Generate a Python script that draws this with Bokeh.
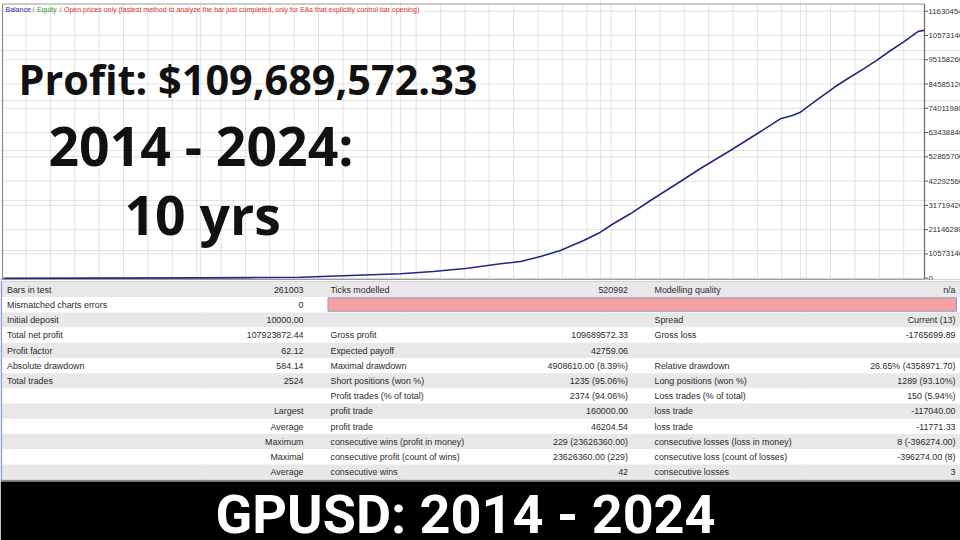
from bokeh.plotting import figure
from bokeh.models import Range1d
from bokeh.layouts import column
from bokeh.embed import file_html
from bokeh.resources import INLINE
from bokeh.core.properties import value

# ---------------- data ----------------
trade_no = [0, 266, 540, 677, 814, 951, 1088, 1178, 1272, 1362, 1417, 1472, 1526, 1590,
            1636, 1672, 1718, 1773, 1855, 1910, 1992, 2075, 2129, 2162, 2184, 2233, 2275,
            2313, 2357, 2395, 2431, 2466, 2508, 2524]
balance = [10000, 45000, 130000, 260000, 440000, 1180000, 1920000, 2920000, 4360000,
           6270000, 7270000, 9450000, 12070000, 16420000, 20040000, 23830000, 28050000,
           33850000, 42120000, 47780000, 55630000, 63900000, 69430000, 70870000, 72310000,
           78150000, 82940000, 86860000, 91210000, 95130000, 99190000, 102800000,
           107590000, 107933872.44]

tick_values = [0, 10573140, 21146280, 31719420, 42292560, 52865700, 63438840,
               74011980, 84585120, 95158260, 105731400, 116304540]
tick_labels = ["0", "10573140", "21146280", "31719420", "42292560", "52865700",
               "63438840", "74011980", "84585120", "95158260", "105731400", "116304540"]

col1_labels = ["Bars in test", "Mismatched charts errors", "Initial deposit", "Total net profit",
               "Profit factor", "Absolute drawdown", "Total trades", "", "", "", "", "", ""]
col1_values = ["261003", "0", "10000.00", "107923872.44", "62.12", "584.14", "2524", "",
               "Largest", "Average", "Maximum", "Maximal", "Average"]
col2_labels = ["Ticks modelled", "", "", "Gross profit", "Expected payoff", "Maximal drawdown",
               "Short positions (won %)", "Profit trades (% of total)", "profit trade",
               "profit trade", "consecutive wins (profit in money)",
               "consecutive profit (count of wins)", "consecutive wins"]
col2_values = ["520992", "", "", "109689572.33", "42759.06", "4908610.00 (8.39%)",
               "1235 (95.06%)", "2374 (94.06%)", "160000.00", "46204.54",
               "229 (23626360.00)", "23626360.00 (229)", "42"]
col3_labels = ["Modelling quality", "", "Spread", "Gross loss", "", "Relative drawdown",
               "Long positions (won %)", "Loss trades (% of total)", "loss trade", "loss trade",
               "consecutive losses (loss in money)", "consecutive loss (count of losses)",
               "consecutive losses"]
col3_values = ["n/a", "", "Current (13)", "-1765699.89", "", "26.65% (4358971.70)",
               "1289 (93.10%)", "150 (5.94%)", "-117040.00", "-11771.33", "8 (-396274.00)",
               "-396274.00 (8)", "3"]

headline_1 = "Profit: $109,689,572.33"
headline_2 = "2014 - 2024:"
headline_3 = "10 yrs"
banner_text = "GPUSD: 2014 - 2024"

# ---------------- layout (pixels) ----------------
W = 960
H1 = 280
H2 = 260

PLOT_L, PLOT_R = 3.0, 924.0
ZERO_Y, TOP_TICK_Y = 277.7, 10.7
tpp = trade_no[-1] / (PLOT_R - PLOT_L)
bpp = tick_values[-1] / (ZERO_Y - TOP_TICK_Y)

# ---------------- chart figure ----------------
p1 = figure(width=W, height=H1, x_range=Range1d(0, W), y_range=Range1d(H1, 0),
            output_backend="svg", toolbar_location=None, min_border=0,
            x_axis_location=None, y_axis_location=None)
p1.outline_line_color = None
p1.background_fill_color = "white"
p1.border_fill_color = "white"
p1.extra_x_ranges = {"trades": Range1d((0 - PLOT_L) * tpp, (W - PLOT_L) * tpp)}
p1.extra_y_ranges = {"bal": Range1d((ZERO_Y - H1) * bpp, (ZERO_Y - 0) * bpp)}

# dotted grid
grid_x = [25.5 + 24.38 * k for k in range(37)]
p1.segment(x0=grid_x, x1=grid_x, y0=[4] * len(grid_x), y1=[278] * len(grid_x),
           line_color="#c4c4c4", line_width=1, line_dash="1 1")
p1.segment(x0=[PLOT_L] * len(tick_values), x1=[PLOT_R] * len(tick_values),
           y0=tick_values, y1=tick_values, y_range_name="bal",
           line_color="#c4c4c4", line_width=1, line_dash="1 1")

# frame
p1.line(x=[2, 2], y=[3.5, 280], line_color="#8a8a8a", line_width=1.2)
p1.line(x=[2, PLOT_R], y=[3.5, 3.5], line_color="#9a9a9a", line_width=1)
p1.line(x=[PLOT_R, PLOT_R], y=[3.5, 279], line_color="#6a6a6a", line_width=1.2)
p1.line(x=[0, PLOT_R], y=[279.2, 279.2], line_color="#9a9a9a", line_width=2)
p1.line(x=[PLOT_R, W], y=[279.5, 279.5], line_color="#c4c4c4", line_width=1.5)

# right-hand value scale
p1.segment(x0=[PLOT_R] * len(tick_values), x1=[PLOT_R + 3.5] * len(tick_values),
           y0=tick_values, y1=tick_values, y_range_name="bal",
           line_color="#555555", line_width=1)
p1.text(x=[928] * len(tick_values), y=tick_values, text=tick_labels, y_range_name="bal",
        text_align="left", text_baseline="middle", text_font=value("Liberation Sans"),
        text_font_size="7.8px", text_color="#333333")

# balance curve
p1.line(x=trade_no, y=balance, x_range_name="trades", y_range_name="bal",
        line_color="#1f2a86", line_width=1.6)

# legend line at top
leg_x = [5, 32, 36.5, 59.5, 63.5]
leg_t = ["Balance", "/", "Equity", "/", "Open prices only (fastest method to analyze the bar just completed, only for EAs that explicitly control bar opening)"]
leg_c = ["#2a2ab0", "#555555", "#2a9a2a", "#e03030", "#e03030"]
p1.text(x=leg_x, y=[9] * 5, text=leg_t, text_color=leg_c, text_align="left",
        text_baseline="middle", text_font=value("Liberation Sans"), text_font_size="7px")

# headline overlay texts
hl = dict(text_align="left", text_baseline="middle", text_font=value("Open Sans"),
          text_font_style="bold", text_color="#111111")
p1.text(x=[18], y=[78.5], text=[headline_1], text_font_size="41.4px", **hl)
p1.text(x=[48], y=[145], text=[headline_2], text_font_size="53.5px", **hl)
p1.text(x=[124], y=[213.5], text=[headline_3], text_font_size="53.5px", **hl)

# ---------------- report table + banner ----------------
p2 = figure(width=W, height=H2, x_range=Range1d(0, W), y_range=Range1d(540, 280),
            output_backend="svg", toolbar_location=None, min_border=0,
            x_axis_location=None, y_axis_location=None)
p2.outline_line_color = None
p2.background_fill_color = "white"
p2.border_fill_color = "white"

n_rows = len(col1_labels)
ROW_TOP, ROW_H = 281.5, 15.2
tops = [ROW_TOP + ROW_H * i for i in range(n_rows)]
bots = [t + ROW_H for t in tops]
mids = [t + ROW_H / 2 + 0.1 for t in tops]
fills = ["#e8e8e8" if i % 2 == 0 else "#ffffff" for i in range(n_rows)]
p2.quad(left=1.5, right=W, top=tops, bottom=bots, fill_color=fills, line_color=None)

# table borders
p2.line(x=[0.8, 0.8], y=[280, 480], line_color="#8c9fc8", line_width=1.6)
p2.line(x=[0, W], y=[280.8, 280.8], line_color="#c8c8c8", line_width=1)
p2.line(x=[0, W], y=[480, 480], line_color="#8a8a8a", line_width=1.6)

# pink quality bar
p2.quad(left=[327.5], right=[956], top=[297.3], bottom=[310.7], fill_color="#f7a2a2",
        line_color="#8a9ccc", line_width=1)

tf = dict(text_baseline="middle", text_font=value("Liberation Sans"),
          text_font_size="8.9px", text_color="#2b2b2b")
p2.text(x=[6.5] * n_rows, y=mids, text=col1_labels, text_align="left", **tf)
p2.text(x=[303] * n_rows, y=mids, text=col1_values, text_align="right", **tf)
p2.text(x=[330] * n_rows, y=mids, text=col2_labels, text_align="left", **tf)
p2.text(x=[627.5] * n_rows, y=mids, text=col2_values, text_align="right", **tf)
p2.text(x=[654] * n_rows, y=mids, text=col3_labels, text_align="left", **tf)
p2.text(x=[955] * n_rows, y=mids, text=col3_values, text_align="right", **tf)

# black banner
p2.quad(left=[0], right=[W], top=[481], bottom=[540], fill_color="black", line_color=None)
p2.text(x=[465], y=[514], text=[banner_text], text_align="center", text_baseline="middle",
        text_font=value("Roboto"), text_font_style="bold", text_font_size="54px",
        text_color="white")

layout = column(p1, p2, spacing=0)
open("out.html", "w").write(file_html(layout, INLINE))
